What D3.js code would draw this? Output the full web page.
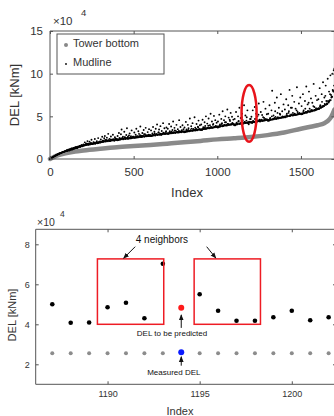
<!DOCTYPE html>
<html>
<head>
<meta charset="utf-8">
<script src="https://d3js.org/d3.v7.min.js"></script>
<style>
  * { margin: 0; padding: 0; }
  body { background: #fff; width: 334px; height: 416px; overflow: hidden; font-family: 'Liberation Sans', Arial, sans-serif; }
  svg { display: block; }
  .ax path.domain { display: none; }
  .ax line { stroke: #555; }
  .ax text { fill: #333; }
</style>
</head>
<body>
<svg id="chart" width="334" height="416"></svg>
<script>
// ---- top panel: sorted DELs, values in 1e4 kNm ----
const towerIdx = [0, 25, 50, 100, 150, 200, 300, 400, 500, 600, 700, 800, 900, 1000, 1100, 1200, 1300, 1400, 1500, 1550, 1600, 1640, 1660, 1680, 1690, 1700];
const towerDel = [0, 0.25, 0.45, 0.7, 0.88, 1.0, 1.2, 1.38, 1.52, 1.65, 1.8, 1.95, 2.12, 2.3, 2.43, 2.58, 2.8, 3.1, 3.55, 3.75, 3.95, 4.2, 4.45, 4.9, 5.3, 5.8];

// mudline, one value every 4th index (0, 4, 8 ... 1700)
const mudlineStep = 4;
const mudlineDel = [
  0.00,0.06,0.11,0.15,0.22,0.25,0.31,0.36,0.39,0.45,0.47,0.53,0.56,0.58,0.65,0.66,0.72,0.71,0.78,0.80,0.81,0.87,0.86,0.93,0.95,
  1.02,0.95,1.10,1.04,1.00,1.16,1.08,1.25,1.12,1.15,1.30,1.20,1.24,1.38,1.27,1.33,1.29,1.45,1.37,1.50,1.42,1.46,1.62,1.52,1.58,
  1.70,1.60,1.95,1.66,1.82,1.74,2.10,1.68,1.78,2.02,1.72,1.88,2.25,1.80,1.76,1.98,1.90,2.35,1.84,1.92,2.08,1.86,2.45,1.96,2.04,
  2.05,2.30,1.98,2.60,2.14,2.02,2.44,2.70,2.08,2.22,2.50,2.12,2.95,2.18,2.36,2.10,2.64,2.26,2.20,2.85,2.32,2.16,2.55,2.40,2.28,
  2.35,2.70,2.22,3.05,2.48,2.30,2.90,3.45,2.40,2.62,2.34,3.20,2.56,2.44,2.82,3.60,2.50,2.38,2.75,3.00,2.46,2.66,3.35,2.52,2.60,
  2.58,3.10,2.48,2.85,3.55,2.66,2.54,3.25,2.95,2.62,3.80,2.74,2.58,3.05,2.70,3.40,2.64,2.90,3.65,2.68,2.80,3.15,2.72,3.50,2.78,
  2.80,3.35,2.70,3.00,3.75,2.86,3.20,2.76,3.55,2.92,4.05,2.84,3.10,3.45,2.90,3.85,2.82,3.28,2.96,4.20,3.02,3.60,2.94,3.15,3.70,
  3.00,3.55,2.94,4.10,3.25,3.08,3.80,3.02,3.40,4.40,3.12,3.65,3.06,3.30,4.00,3.18,3.50,3.10,4.55,3.22,3.75,3.14,3.38,3.95,3.20,
  3.22,3.70,3.15,4.35,3.45,3.28,4.00,3.60,3.24,4.75,3.38,3.85,3.30,4.20,3.52,3.34,4.90,3.66,3.42,4.10,3.36,3.78,4.50,3.48,3.95,
  3.46,4.05,3.40,4.60,3.72,3.52,4.30,3.88,5.00,3.56,4.15,3.64,4.75,3.60,3.96,5.30,3.70,4.40,3.66,4.10,5.05,3.76,4.55,3.82,4.25,
  3.78,4.40,3.72,5.20,4.05,3.84,4.70,4.20,5.60,3.90,4.55,3.96,5.00,4.30,3.94,5.80,4.12,4.85,4.02,4.45,5.40,4.08,4.95,4.16,4.62,
  4.02,4.70,3.96,5.50,4.25,4.06,5.00,4.45,6.00,4.12,4.80,4.20,5.30,4.55,4.14,6.30,4.35,5.10,4.24,4.90,5.70,4.18,4.08,4.30,4.68,
  4.68,4.95,4.22,5.70,4.40,4.30,6.10,4.70,5.30,4.36,5.00,4.44,6.50,4.62,4.38,5.50,4.50,5.15,4.46,6.70,4.80,4.52,5.90,4.58,5.25,
  4.55,5.30,4.48,6.30,4.80,4.60,5.70,8.00,4.66,5.10,4.72,6.60,4.94,4.70,7.20,5.40,4.78,6.00,4.84,5.20,7.60,4.88,5.60,4.92,6.40,
  4.96,5.80,4.90,7.00,5.30,5.02,6.30,5.60,8.10,5.10,6.00,5.16,7.40,5.40,5.12,6.70,5.22,5.90,5.18,8.40,5.50,5.26,6.50,5.30,7.20,
  5.32,6.20,5.26,7.60,5.70,5.38,6.80,5.50,8.50,5.46,6.40,5.56,7.90,5.90,5.58,7.10,5.64,6.60,5.70,8.80,6.10,5.76,7.40,5.82,6.90,
  5.90,7.00,5.86,8.30,6.30,6.00,7.60,6.20,9.00,6.22,7.20,6.34,8.60,6.80,6.44,9.40,6.70,7.90,6.90,9.80,7.50,7.30,10.0,8.00,10.4,
  10.6
];
// mudline, the in-between indices (2, 6, 10 ... 1698)
const mudlineOffset = 2;
const mudlineDelMid = [
  0.03,0.09,0.13,0.19,0.24,0.28,0.33,0.37,0.42,0.44,0.50,0.54,0.57,0.62,0.64,0.69,0.70,0.75,0.79,0.83,0.84,0.88,0.92,0.94,0.98,
  1.00,0.98,1.05,1.12,1.08,1.14,1.12,1.20,1.24,1.18,1.28,1.32,1.26,1.34,1.40,1.33,1.45,1.40,1.48,1.52,1.46,1.55,1.62,1.50,1.60,
  1.56,1.65,1.60,1.72,1.64,1.68,1.78,1.66,1.74,1.70,1.80,1.74,1.86,1.76,1.80,1.92,1.82,1.78,1.86,1.98,1.84,1.90,1.88,1.96,1.92,
  1.94,2.00,2.06,1.98,2.14,2.04,2.08,2.22,2.05,2.12,2.18,2.08,2.20,2.14,2.10,2.26,2.16,2.20,2.30,2.18,2.24,2.16,2.34,2.22,2.26,
  2.20,2.30,2.24,2.38,2.26,2.34,2.40,2.30,2.46,2.32,2.36,2.52,2.34,2.40,2.44,2.38,2.62,2.42,2.46,2.40,2.56,2.44,2.50,2.48,2.60,
  2.46,2.56,2.52,2.62,2.50,2.58,2.66,2.54,2.60,2.78,2.58,2.64,2.70,2.60,2.66,2.92,2.64,2.70,2.76,2.66,2.72,2.68,2.84,2.70,2.76,
  2.68,2.76,2.72,2.82,2.74,2.80,3.00,2.78,2.84,2.90,2.80,2.86,3.12,2.84,2.90,2.96,2.88,2.94,2.90,3.08,2.92,2.98,2.94,3.25,2.98,
  2.94,3.02,2.98,3.10,3.00,3.06,3.20,3.04,3.10,3.04,3.14,3.36,3.08,3.12,3.18,3.10,3.16,3.30,3.14,3.20,3.16,3.26,3.18,3.24,3.48,
  3.14,3.22,3.18,3.30,3.20,3.26,3.40,3.24,3.30,3.28,3.36,3.56,3.30,3.34,3.42,3.36,3.40,3.34,3.52,3.38,3.44,3.70,3.42,3.48,3.44,
  3.40,3.48,3.44,3.56,3.50,3.54,3.70,3.52,3.60,3.56,3.64,3.90,3.60,3.66,3.62,3.76,3.66,3.70,4.00,3.70,3.76,3.72,3.86,3.74,3.80,
  3.70,3.80,3.76,3.90,3.80,3.86,4.10,3.84,3.92,3.88,4.00,4.30,3.92,3.98,3.94,4.12,3.98,4.04,4.60,4.02,4.08,4.04,4.22,4.06,4.12,
  3.96,4.06,4.02,4.16,4.08,4.12,4.40,4.10,4.18,4.14,4.26,4.90,4.16,4.22,4.18,4.34,4.20,4.26,4.50,4.22,4.30,4.26,4.38,4.28,4.34,
  4.26,4.34,4.30,4.46,4.32,4.38,4.70,4.36,4.44,4.40,4.52,5.20,4.42,4.50,4.46,4.62,4.48,4.54,4.90,4.52,4.60,4.56,4.70,4.58,4.64,
  4.48,4.58,4.54,4.70,4.58,4.64,5.00,4.62,4.70,4.66,4.80,5.60,4.70,4.78,4.74,4.90,4.76,4.82,5.30,4.80,4.88,4.84,5.00,4.86,4.92,
  4.88,4.98,4.94,5.12,4.98,5.04,5.40,5.02,5.10,5.06,5.22,6.00,5.10,5.18,5.14,5.32,5.16,5.22,5.70,5.20,5.28,5.24,5.40,5.26,5.32,
  5.24,5.34,5.30,5.50,5.36,5.42,5.90,5.40,5.50,5.46,5.64,6.60,5.52,5.60,5.56,5.76,5.60,5.68,6.20,5.66,5.76,5.72,5.94,5.78,5.86,
  5.84,5.96,5.92,6.16,6.00,6.08,6.70,6.10,6.22,6.20,6.44,7.40,6.36,6.50,6.48,6.80,6.62,6.78,7.60,6.90,7.20,7.30,8.10,7.90,8.60
];
const topXTicks = [0, 500, 1000, 1500];
const topYTicks = [0, 5, 10, 15];
const highlight = { idx: 1190, del: 5.35, rIdx: 45, rDel: 3.32 };

// ---- bottom panel: zoom around index 1194 ----
const nbIdx = [1187, 1188, 1189, 1190, 1191, 1192, 1193, 1194, 1195, 1196, 1197, 1198, 1199, 1200, 1201, 1202];
const nbMudline = [5.0, 4.08, 4.09, 4.85, 5.08, 4.3, 7.03, 4.83, 5.5, 4.68, 4.18, 4.18, 4.35, 4.68, 4.2, 4.35];
const nbTower = [2.55, 2.55, 2.55, 2.55, 2.55, 2.55, 2.55, 2.6, 2.55, 2.55, 2.55, 2.55, 2.55, 2.55, 2.55, 2.55];
const targetIdx = 1194;
const neighborBoxes = [[1189.45, 1193.05], [1194.7, 1198.3]];
const neighborBoxDel = [4.0, 7.27];
const botXTicks = [1190, 1195, 1200];
const botYTicks = [2, 4, 6, 8];

const svg = d3.select('#chart');
const font = 'Liberation Sans';
const ink = '#333';

svg.append('defs').append('marker')
  .attr('id', 'arr').attr('viewBox', '0 0 10 10').attr('refX', 9).attr('refY', 5)
  .attr('markerWidth', 6).attr('markerHeight', 6).attr('orient', 'auto-start-reverse')
  .append('path').attr('d', 'M0,1 L10,5 L0,9 z').attr('fill', '#111');

function frame(g, x, y, xt, yt, fs, padX, padY) {
  const [x0, x1] = x.range(), [y0, y1] = y.range();
  g.append('g').attr('class', 'ax').attr('transform', `translate(0,${y0})`)
    .call(d3.axisBottom(x).tickValues(xt).tickSize(-3).tickPadding(padX).tickFormat(d3.format('d')))
    .selectAll('text').attr('font-size', fs).attr('font-family', font);
  g.append('g').attr('class', 'ax').attr('transform', `translate(0,${y1})`)
    .call(d3.axisTop(x).tickValues(xt).tickSize(-3).tickFormat(''));
  g.append('g').attr('class', 'ax').attr('transform', `translate(${x0},0)`)
    .call(d3.axisLeft(y).tickValues(yt).tickSize(-3).tickPadding(padY))
    .selectAll('text').attr('font-size', fs).attr('font-family', font);
  g.append('g').attr('class', 'ax').attr('transform', `translate(${x1},0)`)
    .call(d3.axisRight(y).tickValues(yt).tickSize(-3).tickFormat(''));
  g.append('path')
    .attr('d', `M${x1},${y1} H${x0} V${y0} H${x1} V${y1}`)
    .attr('fill', 'none').attr('stroke', '#555').attr('stroke-width', 1);
}

function label(g, x, y, txt, fs, opts = {}) {
  return g.append('text').attr('x', x).attr('y', y).text(txt)
    .attr('font-size', fs).attr('font-family', font).attr('font-weight', 'normal')
    .attr('fill', opts.fill || ink)
    .attr('text-anchor', opts.anchor || 'start');
}

// ================= top panel =================
const xT = d3.scaleLinear().domain([0, 1700]).range([50, 334.4]);
const yT = d3.scaleLinear().domain([0, 15]).range([159, 31]);
const topG = svg.append('g');

topG.append('path')
  .datum(towerIdx.map((d, i) => [d, towerDel[i]]))
  .attr('d', d3.line().x(d => xT(d[0])).y(d => yT(d[1])).curve(d3.curveMonotoneX))
  .attr('fill', 'none').attr('stroke', '#8a8a8a').attr('stroke-width', 4.5)
  .attr('stroke-linecap', 'round');

const mudPts = mudlineDel.map((d, i) => [i * mudlineStep, d])
  .concat(mudlineDelMid.map((d, i) => [i * mudlineStep + mudlineOffset, d]));

topG.append('g').selectAll('circle')
  .data(mudPts)
  .join('circle')
  .attr('cx', d => xT(d[0]))
  .attr('cy', d => yT(d[1]))
  .attr('r', 0.95)
  .attr('fill', '#000');

topG.append('ellipse')
  .attr('cx', xT(highlight.idx)).attr('cy', yT(highlight.del))
  .attr('rx', xT(highlight.rIdx) - xT(0)).attr('ry', yT(0) - yT(highlight.rDel))
  .attr('fill', 'none').attr('stroke', '#e8141b').attr('stroke-width', 2.5);

frame(topG, xT, yT, topXTicks, topYTicks, 11.5, 9, 7);

// legend
const lg = topG.append('g');
lg.append('rect').attr('x', 57).attr('y', 34).attr('width', 107).attr('height', 40)
  .attr('fill', '#fff').attr('stroke', '#555').attr('stroke-width', 1);
lg.append('circle').attr('cx', 66).attr('cy', 45).attr('r', 2).attr('fill', '#888');
lg.append('circle').attr('cx', 66).attr('cy', 64).attr('r', 0.9).attr('fill', '#000');
label(lg, 73, 47, 'Tower bottom', 11);
label(lg, 73, 66, 'Mudline', 11);

label(topG, 53, 25, '×10', 11.5);
label(topG, 81, 16, '4', 9.5);
label(topG, 187, 197, 'Index', 13, { anchor: 'middle' });
label(topG, 0, 0, 'DEL [kNm]', 13, { anchor: 'middle' }).attr('transform', 'translate(19,95) rotate(-90)');

// ================= bottom panel =================
const xB = d3.scaleLinear().domain([1186.1, 1202.4]).range([35.7, 336]);
const yB = d3.scaleLinear().domain([1, 8.75]).range([384.3, 229.3]);
const botG = svg.append('g');

frame(botG, xB, yB, botXTicks, botYTicks, 9, 6.5, 6);

botG.append('g').selectAll('circle')
  .data(nbIdx.map((d, i) => [d, nbTower[i]]).filter(d => d[0] !== targetIdx))
  .join('circle')
  .attr('cx', d => xB(d[0])).attr('cy', d => yB(d[1])).attr('r', 2).attr('fill', '#8c8c8c');

botG.append('g').selectAll('circle')
  .data(nbIdx.map((d, i) => [d, nbMudline[i]]).filter(d => d[0] !== targetIdx))
  .join('circle')
  .attr('cx', d => xB(d[0])).attr('cy', d => yB(d[1])).attr('r', 2.3).attr('fill', '#000');

const ti = nbIdx.indexOf(targetIdx);
botG.append('circle').attr('cx', xB(targetIdx)).attr('cy', yB(nbMudline[ti])).attr('r', 3).attr('fill', '#ff1a1a');
botG.append('circle').attr('cx', xB(targetIdx)).attr('cy', yB(nbTower[ti])).attr('r', 3).attr('fill', '#0a1aff');

neighborBoxes.forEach(b => {
  botG.append('rect')
    .attr('x', xB(b[0])).attr('y', yB(neighborBoxDel[1]))
    .attr('width', xB(b[1]) - xB(b[0])).attr('height', yB(neighborBoxDel[0]) - yB(neighborBoxDel[1]))
    .attr('fill', 'none').attr('stroke', '#ee1c24').attr('stroke-width', 1.5);
});

function arrow(a, b) {
  botG.append('line')
    .attr('x1', xB(a[0])).attr('y1', yB(a[1])).attr('x2', xB(b[0])).attr('y2', yB(b[1]))
    .attr('stroke', '#111').attr('stroke-width', 1).attr('marker-end', 'url(#arr)');
}
arrow([1191.5, 7.88], [1190.87, 7.3]);
arrow([1195.38, 7.88], [1195.88, 7.31]);
arrow([targetIdx, 3.82], [targetIdx, 4.47]);
arrow([targetIdx, 1.93], [targetIdx, 2.38]);

label(botG, xB(1192.95), yB(8.05), '4 neighbors', 10, { anchor: 'middle', fill: '#111' });
label(botG, xB(1193.5), yB(3.42), 'DEL to be predicted', 8, { anchor: 'middle', fill: '#111' });
label(botG, xB(1193.6), yB(1.47), 'Measured DEL', 8, { anchor: 'middle', fill: '#111' });

label(botG, 37, 226, '×10', 10.5);
label(botG, 60, 217, '4', 8.5);
label(botG, 180, 415, 'Index', 11, { anchor: 'middle' });
label(botG, 0, 0, 'DEL [kNm]', 11, { anchor: 'middle' }).attr('transform', 'translate(16,315) rotate(-90)');
</script>
</body>
</html>
